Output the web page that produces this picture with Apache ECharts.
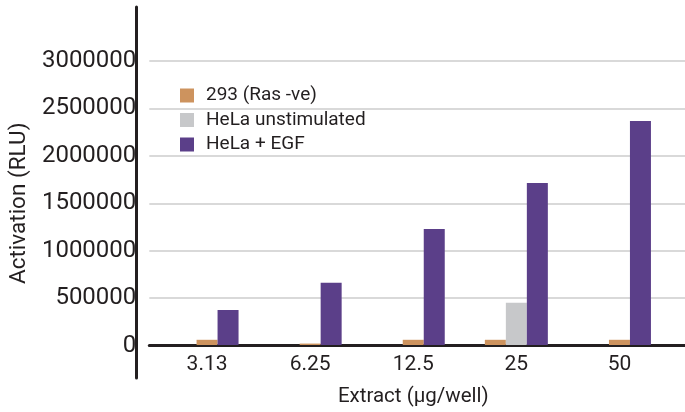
<!DOCTYPE html>
<html>
<head>
<meta charset="utf-8">
<script src="https://cdn.jsdelivr.net/npm/echarts@6/dist/echarts.min.js"></script>
<style>
	html, body { margin: 0; padding: 0; background: #fff; }
	#main { width: 685px; height: 412px; }
</style>
</head>
<body>
<div id="main"></div>
<script>
	let categories = ['3.13', '6.25', '12.5', '25', '50'];
	let ras = [55000, 15000, 55000, 55000, 55000];
	let helaUnstim = [0, 0, 0, 447000, 0];
	let helaEgf = [370000, 658000, 1225000, 1711000, 2366000];
	let yTicks = [0, 500000, 1000000, 1500000, 2000000, 2500000, 3000000];

	// 293 bar sits left of the grey one where grey is present, otherwise it takes the grey slot
	let rasSide = ras.map((v, i) => helaUnstim[i] > 0 ? v : null);
	let rasMid = ras.map((v, i) => helaUnstim[i] > 0 ? null : v);

	let ink = '#231f20';
	let font = 'Roboto';

	let myChart = echarts.init(document.getElementById('main'));
	let option = {
		animation: false,
		backgroundColor: '#fff',
		textStyle: { fontFamily: font, color: ink },
		legend: {
			orient: 'vertical',
			left: 180,
			top: 86,
			padding: 0,
			itemWidth: 14,
			itemHeight: 14,
			itemGap: 5.5,
			icon: 'rect',
			data: ['293 (Ras -ve)', 'HeLa unstimulated', 'HeLa + EGF'],
			textStyle: { fontSize: 19, color: ink, fontFamily: font, padding: [0, 0, 0, 7] }
		},
		grid: [
			{ left: 155.5, right: 14, top: 61, bottom: 66.5 },
			{ left: 136.5, right: 0, top: 61, bottom: 66.5 },
			{ left: 136.5, right: 0, top: 7, bottom: 34 }
		],
		xAxis: [
			{
				type: 'category',
				gridIndex: 0,
				data: categories,
				axisLine: { show: false },
				axisTick: { show: false },
				axisLabel: { fontSize: 21, color: ink, margin: 9 },
				name: 'Extract (µg/well)',
				nameLocation: 'middle',
				nameGap: 41,
				nameTextStyle: { fontSize: 20.5, color: ink }
			},
			{
				type: 'category',
				gridIndex: 1,
				data: categories,
				axisLine: { show: true, lineStyle: { color: ink, width: 3 } },
				axisTick: { show: false },
				axisLabel: { show: false }
			},
			{ type: 'value', gridIndex: 2, show: false }
		],
		yAxis: [
			{ type: 'value', gridIndex: 0, min: yTicks[0], max: yTicks[yTicks.length - 1], interval: 500000, show: false },
			{
				type: 'value',
				gridIndex: 1,
				min: yTicks[0],
				max: yTicks[yTicks.length - 1],
				interval: 500000,
				axisLine: { show: false },
				axisTick: { show: false },
				axisLabel: { fontSize: 24, color: ink, margin: 13, formatter: v => String(v) },
				splitLine: { lineStyle: { color: '#d9d9d9', width: 2 } },
				name: 'Activation (RLU)',
				nameLocation: 'middle',
				nameGap: 107,
				nameTextStyle: { fontSize: 22.5, color: ink }
			},
			{
				type: 'value',
				gridIndex: 2,
				axisLine: { show: true, lineStyle: { color: ink, width: 3 } },
				axisTick: { show: false },
				axisLabel: { show: false },
				splitLine: { show: false }
			}
		],
		series: [
			{ name: '293 (Ras -ve)', type: 'bar', xAxisIndex: 0, yAxisIndex: 0, barWidth: 21, barGap: '0%', itemStyle: { color: '#cd935e' }, data: rasSide },
			{ name: 'HeLa unstimulated', type: 'bar', stack: 'mid', xAxisIndex: 0, yAxisIndex: 0, barWidth: 21, barGap: '0%', itemStyle: { color: '#c7c8ca' }, data: helaUnstim },
			{ name: '293 (Ras -ve)', type: 'bar', stack: 'mid', xAxisIndex: 0, yAxisIndex: 0, barWidth: 21, barGap: '0%', itemStyle: { color: '#cd935e' }, data: rasMid },
			{ name: 'HeLa + EGF', type: 'bar', xAxisIndex: 0, yAxisIndex: 0, barWidth: 21, barGap: '0%', itemStyle: { color: '#5b3f89' }, data: helaEgf }
		]
	};
	myChart.setOption(option);
</script>
</body>
</html>
